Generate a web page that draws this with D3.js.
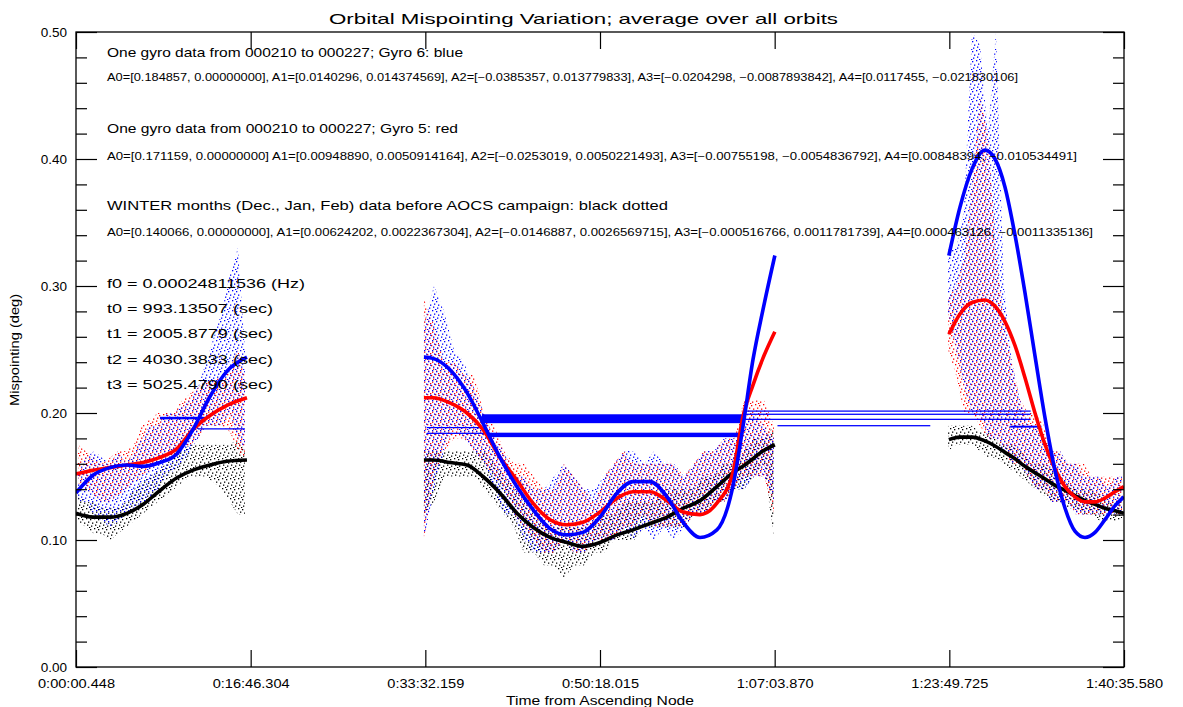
<!DOCTYPE html>
<html><head><meta charset="utf-8">
<script src="https://cdn.jsdelivr.net/npm/d3@7"></script>
<style>
body{margin:0;background:#fff}
svg{display:block}
text{font-family:"Liberation Sans","DejaVu Sans",sans-serif;fill:#000}
</style>
</head><body>
<svg id="chart" width="1183" height="707"></svg>
<script>
// ---------- axis data ----------
const xDomain = [0.448, 6035.580];
const xTickValues = [0.448, 1006.304, 2012.159, 3018.015, 4023.870, 5029.725, 6035.580];
const xTickLabels = ["0:00:00.448","0:16:46.304","0:33:32.159","0:50:18.015","1:07:03.870","1:23:49.725","1:40:35.580"];
const yMajor = [0.00, 0.10, 0.20, 0.30, 0.40, 0.50];
const yMinor = [0.02,0.04,0.06,0.08,0.12,0.14,0.16,0.18,0.22,0.24,0.26,0.28,0.32,0.34,0.36,0.38,0.42,0.44,0.46,0.48];

// ---------- fitted curves (time s, mispointing deg) ----------
const fitT1 = [0, 98, 196, 294, 386, 484, 582, 674, 772, 870, 985];
const blueFit1  = [0.137,0.151,0.157,0.159,0.158,0.161,0.168,0.187,0.213,0.233,0.244];
const redFit1   = [0.152,0.155,0.157,0.159,0.161,0.165,0.172,0.187,0.198,0.206,0.212];
const blackFit1 = [0.121,0.118,0.118,0.121,0.128,0.139,0.149,0.155,0.159,0.162,0.163];

const fitT2 = [2004,2056,2154,2252,2344,2442,2540,2632,2730,2828,2920,3018,3116,3208,3306,3404,3496,3594,3691,3783,3841,3899,3956,4025];
const blueFit2  = [0.244,0.243,0.234,0.216,0.192,0.165,0.142,0.124,0.109,0.104,0.106,0.118,0.137,0.146,0.146,0.134,0.114,0.102,0.108,0.142,0.189,0.242,0.281,0.324];
const redFit2   = [0.212,0.212,0.208,0.200,0.187,0.165,0.147,0.129,0.116,0.112,0.114,0.122,0.133,0.138,0.138,0.131,0.122,0.120,0.129,0.153,0.197,0.222,0.243,0.264];
const blackFit2 = [0.163,0.163,0.161,0.159,0.150,0.137,0.121,0.110,0.102,0.098,0.095,0.098,0.104,0.108,0.113,0.118,0.125,0.131,0.142,0.153,0.158,0.164,0.170,0.175];

const fitT3 = [5027,5091,5160,5235,5293,5350,5408,5465,5523,5581,5638,5696,5753,5811,5869,5926,5984,6035];
const blueFit3  = [0.324,0.362,0.392,0.407,0.400,0.378,0.340,0.295,0.245,0.196,0.155,0.125,0.107,0.102,0.106,0.116,0.127,0.134];
const redFit3   = [0.262,0.278,0.287,0.289,0.284,0.272,0.253,0.228,0.200,0.175,0.156,0.142,0.134,0.130,0.130,0.133,0.138,0.142];
const blackFit3 = [0.179,0.181,0.181,0.178,0.174,0.169,0.164,0.158,0.153,0.148,0.143,0.139,0.135,0.131,0.128,0.125,0.123,0.121];

// ---------- scatter envelopes (time bucket, low, high) ----------
const scatT1 = [12,58,104,150,196,242,288,334,380,426,472,518,564,610,656,703,749,795,841,887,933,973];
const blueLo1 = [0.131,0.13,0.12,0.115,0.11,0.115,0.12,0.125,0.13,0.13,0.14,0.15,0.155,0.16,0.17,0.18,0.19,0.19,0.19,0.20,0.18,0.17];
const blueHi1 = [0.153,0.165,0.17,0.165,0.16,0.17,0.16,0.17,0.18,0.19,0.19,0.20,0.20,0.205,0.21,0.22,0.24,0.26,0.28,0.31,0.33,0.25];
const redLo1 = [0.145,0.14,0.135,0.13,0.13,0.135,0.14,0.145,0.15,0.155,0.16,0.165,0.165,0.17,0.175,0.18,0.19,0.19,0.19,0.185,0.17,0.16];
const redHi1 = [0.175,0.17,0.165,0.16,0.165,0.17,0.17,0.175,0.19,0.195,0.20,0.20,0.20,0.21,0.215,0.22,0.225,0.225,0.23,0.235,0.25,0.23];
const blackLo1 = [0.115,0.11,0.105,0.105,0.10,0.105,0.11,0.115,0.12,0.125,0.13,0.135,0.14,0.145,0.15,0.15,0.15,0.145,0.14,0.13,0.12,0.12];
const blackHi1 = [0.135,0.13,0.13,0.125,0.125,0.125,0.13,0.14,0.145,0.15,0.155,0.16,0.165,0.17,0.175,0.175,0.175,0.175,0.175,0.175,0.18,0.17];

const scatT2 = [2004,2062,2120,2177,2235,2292,2350,2408,2465,2523,2580,2638,2696,2753,2811,2868,2926,2983,3041,3099,3156,3214,3271,3329,3387,3444,3502,3559,3617,3675,3732,3790,3847,3905,3962,4020];
const blueLo2 = [0.10,0.14,0.17,0.19,0.18,0.17,0.16,0.14,0.12,0.12,0.10,0.09,0.09,0.09,0.10,0.09,0.09,0.10,0.10,0.10,0.11,0.10,0.11,0.10,0.11,0.10,0.11,0.12,0.12,0.13,0.13,0.14,0.14,0.15,0.15,0.13];
const blueHi2 = [0.27,0.30,0.28,0.25,0.24,0.22,0.20,0.18,0.17,0.15,0.15,0.14,0.14,0.15,0.16,0.15,0.14,0.14,0.15,0.16,0.17,0.17,0.16,0.17,0.16,0.16,0.15,0.16,0.17,0.17,0.18,0.18,0.19,0.20,0.19,0.18];
const redLo2 = [0.10,0.15,0.17,0.18,0.18,0.17,0.16,0.15,0.14,0.12,0.11,0.10,0.09,0.09,0.10,0.09,0.09,0.10,0.10,0.10,0.11,0.11,0.12,0.11,0.11,0.11,0.11,0.12,0.12,0.13,0.13,0.14,0.15,0.15,0.15,0.12];
const redHi2 = [0.29,0.27,0.24,0.24,0.23,0.23,0.20,0.19,0.17,0.16,0.16,0.15,0.14,0.14,0.16,0.15,0.14,0.13,0.15,0.16,0.17,0.16,0.16,0.16,0.16,0.16,0.15,0.16,0.17,0.17,0.18,0.18,0.21,0.21,0.21,0.19];
const blackLo2 = [0.12,0.13,0.15,0.15,0.15,0.15,0.14,0.13,0.12,0.11,0.09,0.09,0.08,0.08,0.07,0.08,0.08,0.09,0.09,0.10,0.10,0.10,0.11,0.11,0.11,0.11,0.11,0.12,0.12,0.13,0.13,0.14,0.14,0.15,0.16,0.10];
const blackHi2 = [0.17,0.17,0.17,0.17,0.17,0.17,0.17,0.16,0.15,0.14,0.13,0.12,0.11,0.11,0.11,0.11,0.11,0.11,0.12,0.12,0.13,0.13,0.13,0.13,0.14,0.14,0.14,0.14,0.15,0.15,0.16,0.16,0.17,0.18,0.18,0.19];

const scatT3 = [5022,5068,5114,5160,5206,5252,5298,5344,5390,5437,5483,5529,5575,5621,5667,5713,5759,5805,5851,5897,5943,5989,6024];
const blueLo3 = [0.28,0.25,0.22,0.20,0.20,0.18,0.18,0.17,0.16,0.16,0.15,0.14,0.14,0.13,0.13,0.13,0.12,0.12,0.12,0.12,0.12,0.12,0.12];
const blueHi3 = [0.33,0.33,0.36,0.50,0.49,0.42,0.50,0.30,0.24,0.21,0.19,0.19,0.18,0.17,0.17,0.16,0.16,0.15,0.15,0.15,0.14,0.15,0.15];
const redLo3 = [0.25,0.23,0.20,0.20,0.19,0.18,0.18,0.17,0.16,0.16,0.15,0.14,0.14,0.13,0.13,0.13,0.12,0.12,0.12,0.12,0.12,0.12,0.12];
const redHi3 = [0.29,0.30,0.32,0.38,0.45,0.42,0.33,0.27,0.24,0.21,0.20,0.20,0.19,0.17,0.17,0.16,0.16,0.16,0.15,0.15,0.15,0.15,0.15];
const blackLo3 = [0.17,0.175,0.175,0.175,0.17,0.165,0.165,0.16,0.155,0.15,0.145,0.14,0.135,0.13,0.13,0.125,0.125,0.12,0.12,0.115,0.115,0.115,0.115];
const blackHi3 = [0.19,0.19,0.19,0.19,0.185,0.185,0.18,0.175,0.175,0.17,0.165,0.16,0.16,0.155,0.15,0.145,0.14,0.14,0.14,0.135,0.13,0.13,0.13];

// ---------- blue horizontal traces (t start, t end, low, high) ----------
const blueTraces = [
  [484, 755, 0.195, 0.197],
  [703, 973, 0.187, 0.188],
  [2021, 2344, 0.188, 0.189],
  [2021, 2384, 0.1835, 0.1845],
  [2338, 3841, 0.192, 0.199],
  [2384, 3841, 0.181, 0.1845],
  [3841, 5498, 0.2010, 0.2020],
  [3841, 5498, 0.1985, 0.1995],
  [3841, 5498, 0.1945, 0.1955],
  [4040, 4920, 0.1895, 0.1905],
  [5380, 5560, 0.1885, 0.1900]
];

// ---------- texts ----------
const titleText = "Orbital Mispointing Variation; average over all orbits";
const xAxisTitle = "Time from Ascending Node";
const yAxisTitle = "Mispointing (deg)";
const headLines = [
  "One gyro data from 000210 to 000227; Gyro 6: blue",
  "One gyro data from 000210 to 000227; Gyro 5: red",
  "WINTER months (Dec., Jan, Feb) data before AOCS campaign: black dotted"
];
const coefLines = [
  "A0=[0.184857, 0.00000000], A1=[0.0140296, 0.014374569], A2=[\u22120.0385357, 0.013779833], A3=[\u22120.0204298, \u22120.0087893842], A4=[0.0117455, \u22120.021830106]",
  "A0=[0.171159, 0.00000000] A1=[0.00948890, 0.0050914164], A2=[\u22120.0253019, 0.0050221493], A3=[\u22120.00755198, \u22120.0054836792], A4=[0.00848394, \u22120.010534491]",
  "A0=[0.140066, 0.00000000], A1=[0.00624202, 0.0022367304], A2=[\u22120.0146887, 0.0026569715], A3=[\u22120.000516766, 0.0011781739], A4=[0.000463126, \u22120.0011335136]"
];
const paramLines = [
  "f0 = 0.00024811536 (Hz)",
  "t0 = 993.13507 (sec)",
  "t1 = 2005.8779 (sec)",
  "t2 = 4030.3833 (sec)",
  "t3 = 5025.4790 (sec)"
];

// ---------- drawing ----------
const plot = {left: 76, right: 1124, top: 32, bottom: 667};
const svg = d3.select("#chart");
const x = d3.scaleLinear().domain(xDomain).range([plot.left, plot.right]);
const y = d3.scaleLinear().domain([0, 0.5]).range([plot.bottom, plot.top]);

const colors = {blue: "#0000ff", red: "#ff0000", black: "#000000"};

// stipple patterns
const defs = svg.append("defs");
const dotSpots = [[0,0],[4,1],[2,3.5],[6,4.5],[1,6.5],[5,7.5],[3,9]];
Object.entries(colors).forEach(([name, col], k) => {
  const p = defs.append("pattern").attr("id", "dots-" + name)
    .attr("patternUnits", "userSpaceOnUse").attr("width", 8).attr("height", 10)
    .attr("x", k * 3).attr("y", k * 4);
  p.selectAll("rect").data(dotSpots).join("rect")
    .attr("x", d => d[0]).attr("y", d => d[1]).attr("width", 1.3).attr("height", 1.3)
    .attr("fill", col);
});
defs.append("clipPath").attr("id", "plotClip").append("rect")
  .attr("x", plot.left).attr("y", plot.top)
  .attr("width", plot.right - plot.left).attr("height", plot.bottom - plot.top);

const dataG = svg.append("g").attr("clip-path", "url(#plotClip)");

const band = d3.area().x(d => x(d[0])).y0(d => y(d[1])).y1(d => y(d[2])).curve(d3.curveLinear);
function scatter(name, T, lo, hi) {
  dataG.append("path").datum(T.map((t, i) => [t, lo[i], hi[i]]))
    .attr("d", band).attr("fill", "url(#dots-" + name + ")");
}
scatter("black", scatT1, blackLo1, blackHi1);
scatter("black", scatT2, blackLo2, blackHi2);
scatter("black", scatT3, blackLo3, blackHi3);
scatter("red", scatT1, redLo1, redHi1);
scatter("red", scatT2, redLo2, redHi2);
scatter("red", scatT3, redLo3, redHi3);
scatter("blue", scatT1, blueLo1, blueHi1);
scatter("blue", scatT2, blueLo2, blueHi2);
scatter("blue", scatT3, blueLo3, blueHi3);

// horizontal traces
dataG.append("g").selectAll("rect").data(blueTraces).join("rect")
  .attr("x", d => x(d[0])).attr("width", d => x(d[1]) - x(d[0]))
  .attr("y", d => y(d[3])).attr("height", d => Math.max(1.2, y(d[2]) - y(d[3])))
  .attr("fill", colors.blue);

// fitted curves
const line = d3.line().x(d => x(d[0])).y(d => y(d[1])).curve(d3.curveMonotoneX);
function fit(T, V, col) {
  dataG.append("path").datum(T.map((t, i) => [t, V[i]]))
    .attr("d", line).attr("fill", "none").attr("stroke", col)
    .attr("stroke-width", 3.6).attr("stroke-linejoin", "round");
}
fit(fitT1, blackFit1, colors.black); fit(fitT2, blackFit2, colors.black); fit(fitT3, blackFit3, colors.black);
fit(fitT1, redFit1, colors.red); fit(fitT2, redFit2, colors.red); fit(fitT3, redFit3, colors.red);
fit(fitT1, blueFit1, colors.blue); fit(fitT2, blueFit2, colors.blue); fit(fitT3, blueFit3, colors.blue);

// axes
const axG = svg.append("g");
function styleAxis(g) {
  g.select(".domain").remove();
  g.selectAll("line").attr("stroke", "#000").attr("stroke-width", 1.2);
  g.selectAll("text").attr("font-family", '"Liberation Sans","DejaVu Sans",sans-serif').attr("font-size", 13.5).attr("fill", "#000");
}
axG.append("g").attr("transform", `translate(${plot.left},0)`)
  .call(d3.axisLeft(y).tickValues(yMajor).tickSize(-21).tickPadding(9).tickFormat(d3.format(".2f"))).call(styleAxis);
axG.append("g").attr("transform", `translate(${plot.left},0)`)
  .call(d3.axisLeft(y).tickValues(yMinor).tickSize(-11).tickFormat("")).call(styleAxis);
axG.append("g").attr("transform", `translate(${plot.right},0)`)
  .call(d3.axisRight(y).tickValues(yMajor).tickSize(-21).tickFormat("")).call(styleAxis);
axG.append("g").attr("transform", `translate(${plot.right},0)`)
  .call(d3.axisRight(y).tickValues(yMinor).tickSize(-11).tickFormat("")).call(styleAxis);
const xb = axG.append("g").attr("transform", `translate(0,${plot.bottom})`)
  .call(d3.axisBottom(x).tickValues(xTickValues).tickSize(-17).tickPadding(12)
    .tickFormat((d, i) => xTickLabels[i])).call(styleAxis);
xb.selectAll(".tick text").attr("font-size", 12.5).attr("textLength", 77).attr("lengthAdjust", "spacingAndGlyphs");
axG.append("g").attr("transform", `translate(0,${plot.top})`)
  .call(d3.axisTop(x).tickValues(xTickValues).tickSize(-17).tickFormat("")).call(styleAxis);

svg.append("rect").attr("x", plot.left).attr("y", plot.top)
  .attr("width", plot.right - plot.left).attr("height", plot.bottom - plot.top)
  .attr("fill", "none").attr("stroke", "#000").attr("stroke-width", 1.3);

// titles
svg.append("text").attr("x", 329).attr("y", 24).attr("font-size", 15)
  .attr("textLength", 509).attr("lengthAdjust", "spacingAndGlyphs").text(titleText);
svg.append("text").attr("x", 600).attr("y", 705).attr("text-anchor", "middle").attr("font-size", 13)
  .attr("textLength", 188).attr("lengthAdjust", "spacingAndGlyphs").text(xAxisTitle);
svg.append("text").attr("transform", "translate(19,350) rotate(-90)").attr("text-anchor", "middle")
  .attr("font-size", 13).attr("textLength", 112).attr("lengthAdjust", "spacingAndGlyphs").text(yAxisTitle);

// annotations
const headY = [57, 133, 210], headLen = [356, 351, 561];
const coefY = [81, 160, 236], coefLen = [911, 970, 986];
headLines.forEach((s, i) => svg.append("text").attr("x", 107).attr("y", headY[i]).attr("font-size", 13.5)
  .attr("textLength", headLen[i]).attr("lengthAdjust", "spacingAndGlyphs").text(s));
coefLines.forEach((s, i) => svg.append("text").attr("x", 107).attr("y", coefY[i]).attr("font-size", 10)
  .attr("textLength", coefLen[i]).attr("lengthAdjust", "spacingAndGlyphs").text(s));
const parY = [288, 313, 338, 364, 389], parLen = [198, 166, 166, 166, 166];
paramLines.forEach((s, i) => svg.append("text").attr("x", 107).attr("y", parY[i]).attr("font-size", 13.5)
  .attr("textLength", parLen[i]).attr("lengthAdjust", "spacingAndGlyphs").text(s));
</script>
</body></html>
